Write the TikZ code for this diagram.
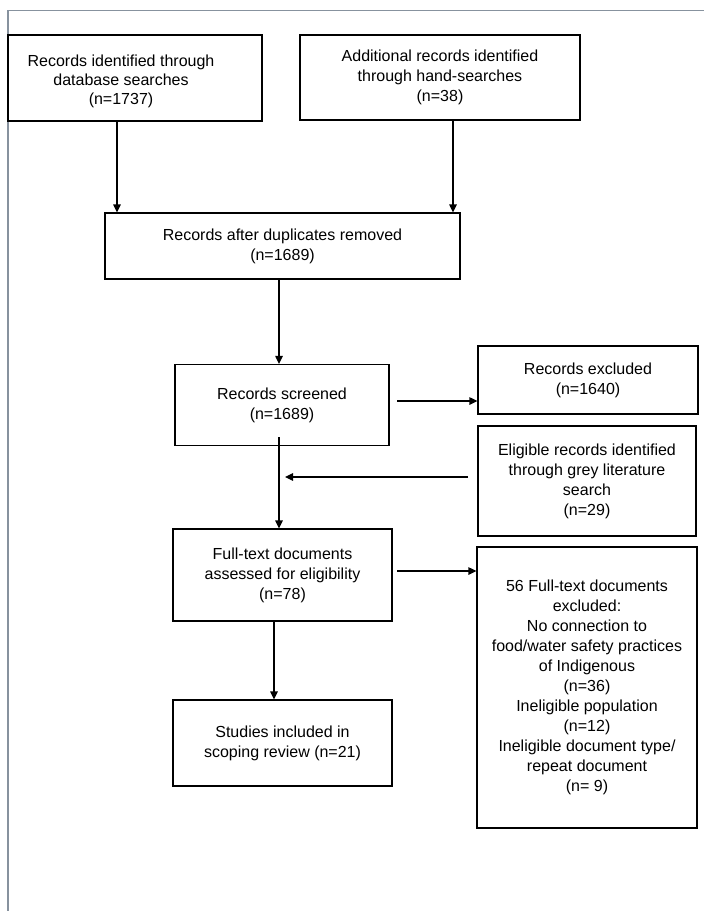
\documentclass[tikz,border=0pt]{standalone}
\usepackage{fontspec}
\setmainfont{Liberation Sans}
\usetikzlibrary{arrows.meta,calc}
\definecolor{framegrey}{RGB}{135,146,158}
\begin{document}
\begin{tikzpicture}[x=1pt,y=-1pt,
  box/.style={draw=black,line width=1.2pt,inner sep=0pt,align=center,
    font=\fontsize{16pt}{20pt}\selectfont},
  txt/.style={inner sep=0pt,align=center,font=\fontsize{16pt}{19pt}\selectfont},
  arr/.style={draw=black,line width=1.2pt,-{Triangle[length=8pt,width=7.5pt]}},
  frameline/.style={draw=framegrey,line width=1.6pt}]
\useasboundingbox (0,0) rectangle (704,911);
\fill[white] (0,0) rectangle (704,911);
% frame
\coordinate (f1) at (704,10.5);
\coordinate (f2) at (8,10.5);
\coordinate (f3) at (8,911);
\draw[frameline] (f1) -- (f2) -- (f3);

% boxes
\node[box,minimum width=254pt,minimum height=86pt] (A) at (135,78) {};
\node[txt] (At) at (121,81) {Records identified through\\database searches\\(n=1737)};
\node[box,minimum width=280pt,minimum height=85pt] (B) at (440,77.5)
  {Additional records identified\\through hand-searches\\(n=38)};
\node[box,minimum width=355pt,minimum height=66pt] (C) at (282.5,246)
  {Records after duplicates removed\\(n=1689)};
\node[box,minimum width=214pt,minimum height=81pt] (D) at (282,405)
  {Records screened\\(n=1689)};
\node[box,minimum width=220pt,minimum height=68pt] (E) at (588,380)
  {Records excluded\\(n=1640)};
\node[box,minimum width=218pt,minimum height=110pt] (F) at (587,481)
  {Eligible records identified\\through grey literature\\search\\(n=29)};
\node[box,minimum width=219pt,minimum height=92pt] (G) at (282.5,575)
  {Full-text documents\\assessed for eligibility\\(n=78)};
\node[box,minimum width=219pt,minimum height=86pt] (H) at (282.5,743)
  {Studies included in\\scoping review (n=21)};
\node[box,minimum width=220pt,minimum height=281pt] (I) at (587,687.5)
  {56 Full-text documents\\excluded:\\No connection to\\food/water safety practices\\of Indigenous\\(n=36)\\Ineligible population\\(n=12)\\Ineligible document type/\\repeat document\\(n= 9)};

% connectors
\draw[arr] ([xshift=-18pt]A.south) -- ([xshift=-18pt]A.south |- C.north);
\draw[arr] ([xshift=13pt]B.south) -- ([xshift=13pt]B.south |- C.north);
\draw[arr] ([xshift=-3.5pt]C.south) -- ([xshift=-3.5pt]C.south |- D.north);
\coordinate (de) at (397,401);
\draw[arr] (de) -- (E.west |- de);
\coordinate (fs) at (468,477);
\coordinate (ft) at (285,477);
\draw[arr] (fs) -- (ft);
\draw[arr] ([xshift=-3pt,yshift=9pt]D.south) -- ([xshift=-3pt]D.south |- G.north);
\coordinate (gi) at (397,571);
\draw[arr] (gi) -- (I.west |- gi);
\draw[arr] ([xshift=-8.5pt]G.south) -- ([xshift=-8.5pt]G.south |- H.north);
\end{tikzpicture}
\end{document}
